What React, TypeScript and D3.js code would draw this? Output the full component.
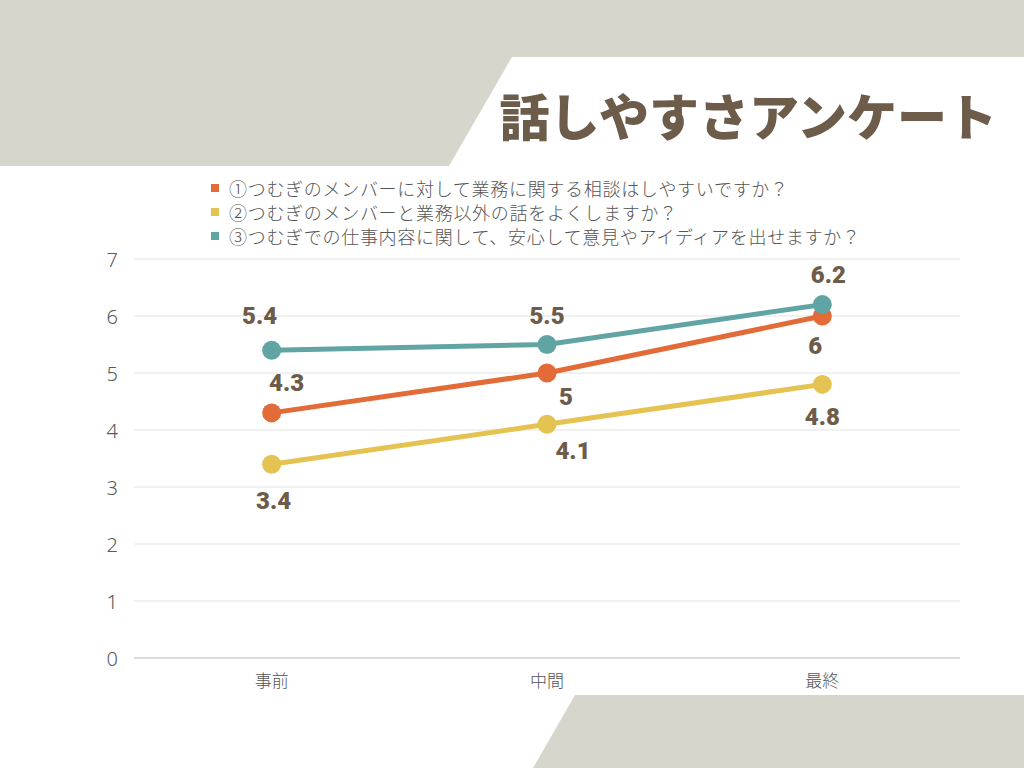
import React from "react";
import * as d3 from "d3";

const categories = ["事前", "中間", "最終"];
const seriesNames = [
  "①つむぎのメンバーに対して業務に関する相談はしやすいですか？",
  "②つむぎのメンバーと業務以外の話をよくしますか？",
  "③つむぎでの仕事内容に関して、安心して意見やアイディアを出せますか？",
];
const series1 = [4.3, 5, 6];
const series2 = [3.4, 4.1, 4.8];
const series3 = [5.4, 5.5, 6.2];
const yTicks = [0, 1, 2, 3, 4, 5, 6, 7];
const title = "話しやすさアンケート";

const colors = ["#e36b38", "#e4c352", "#60a5a3"];
// label placement (dx, dy) per series per point
const labelOffsets = [
  [[15, -30], [19, 24], [-7, 30]],
  [[2, 37], [26, 27], [0, 33]],
  [[-12, -34], [0, -29], [6, -30]],
];

export default function App() {
  const W = 1024, H = 768;
  const left = 134, right = 960, top = 259, bottom = 658;
  const x = d3.scalePoint<string>().domain(categories).range([left, right]).padding(0.5);
  const y = d3.scaleLinear().domain([0, 7]).range([bottom, top]);
  const allSeries = [series1, series2, series3];
  const line = d3.line<number>().x((_, i) => x(categories[i])!).y((d) => y(d));
  const brown = "#6e5c4a";
  return (
    <svg width={W} height={H} style={{ position: "absolute", left: 0, top: 0 }}>
      <rect x={0} y={0} width={W} height={H} fill="#ffffff" />
      <path d="M0,0 H1024 V57 H512 L449,166 H0 Z" fill="#d6d6cd" />
      <path d="M575,695 H1024 V768 H533 Z" fill="#d6d6cd" />
      <text x={997} y={136} textAnchor="end" fontFamily="'Noto Sans CJK JP'" fontWeight={900} fontSize={50} fill={brown}>
        {title}
      </text>
      {seriesNames.map((n, i) => (
        <g key={n}>
          <rect x={211} y={184 + i * 24} width={8} height={8} fill={colors[i]} />
          <text x={229} y={188 + i * 24} dominantBaseline="central" fontFamily="'Noto Sans CJK JP'" fontWeight={300} fontSize={18} letterSpacing={0.7} fill="#555">
            {n}
          </text>
        </g>
      ))}
      {yTicks.map((t) => (
        <g key={t}>
          <line x1={left} x2={right} y1={y(t)} y2={y(t)} stroke={t === 0 ? "#cfcfcf" : "#e3e3e3"} strokeWidth={t === 0 ? 1.5 : 1} />
          <text x={118} y={y(t)} textAnchor="end" dominantBaseline="central" fontFamily="'Noto Sans', sans-serif" fontWeight={300} fontSize={20} fill="#5a5a5a">
            {t}
          </text>
        </g>
      ))}
      {categories.map((c) => (
        <text key={c} x={x(c)!} y={679} textAnchor="middle" dominantBaseline="central" fontFamily="'Noto Sans CJK JP'" fontWeight={300} fontSize={17} fill="#555">
          {c}
        </text>
      ))}
      {[1, 0, 2].map((si) => (
        <g key={si}>
          <path d={line(allSeries[si])!} fill="none" stroke={colors[si]} strokeWidth={5} />
          {allSeries[si].map((v, i) => (
            <circle key={i} cx={x(categories[i])!} cy={y(v)} r={9.5} fill={colors[si]} />
          ))}
        </g>
      ))}
      {allSeries.map((s, si) =>
        s.map((v, i) => (
          <text
            key={`${si}-${i}`}
            x={x(categories[i])! + labelOffsets[si][i][0]}
            y={y(v) + labelOffsets[si][i][1]}
            textAnchor="middle"
            dominantBaseline="central"
            fontFamily="Roboto, sans-serif"
            fontWeight={900}
            fontSize={24}
            fill={brown}
          >
            {v}
          </text>
        ))
      )}
    </svg>
  );
}
